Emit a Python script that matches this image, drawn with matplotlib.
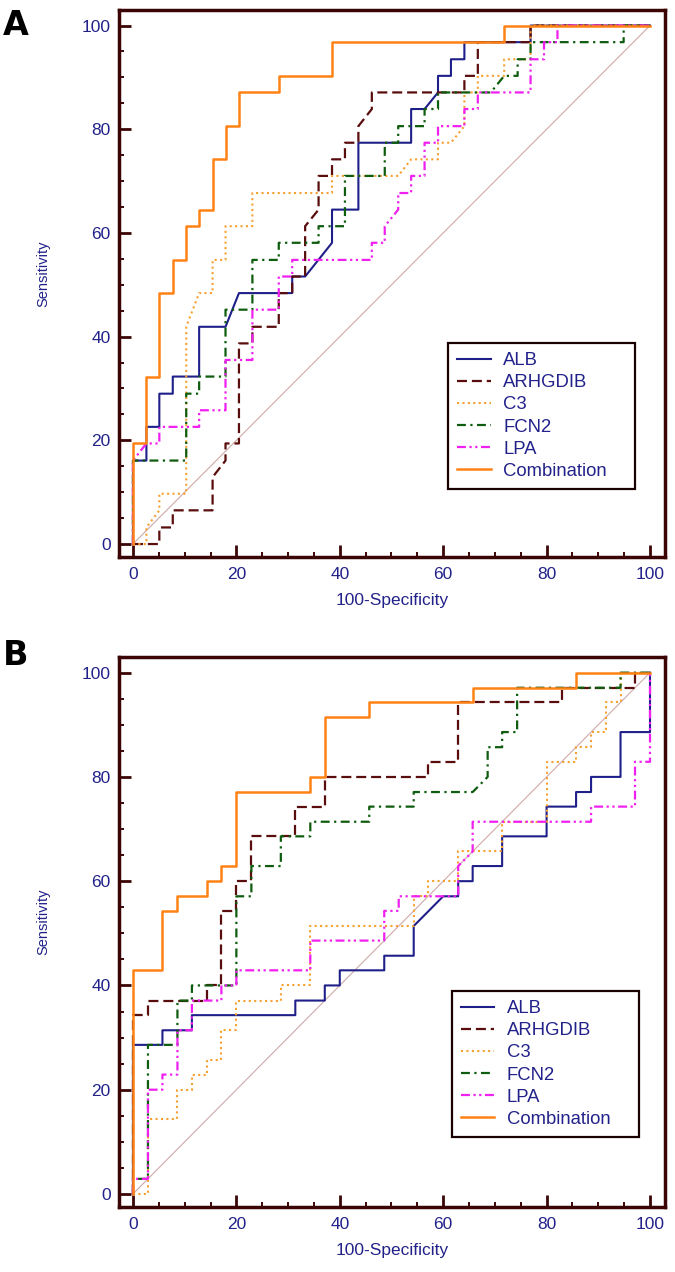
import matplotlib
matplotlib.use('Agg')
import matplotlib.pyplot as plt
from matplotlib.ticker import MultipleLocator

plt.rcParams['font.family'] = ['Liberation Sans', 'DejaVu Sans']

# ---- Panel A data (100-Specificity, Sensitivity step vertices) ----
a_alb_x = [0, 0, 2.6, 2.6, 5.1, 5.1, 7.7, 7.7, 12.8, 12.8, 17.9, 20.5, 30.8, 30.8, 33.3, 38.5, 38.5,
           43.6, 43.6, 53.8, 53.8, 56.4, 59.0, 59.0, 61.5, 61.5, 64.1, 64.1, 76.9, 76.9, 100]
a_alb_y = [0, 16.1, 16.1, 22.6, 22.6, 29.0, 29.0, 32.3, 32.3, 41.9, 41.9, 48.4, 48.4, 51.6, 51.6, 58.1, 64.5,
           64.5, 77.4, 77.4, 83.9, 83.9, 87.1, 90.3, 90.3, 93.5, 93.5, 96.8, 96.8, 100, 100]

a_arh_x = [0, 5.1, 5.1, 7.7, 7.7, 15.4, 15.4, 17.9, 17.9, 20.5, 20.5, 23.1, 23.1, 28.2, 28.2, 30.8, 30.8,
           33.3, 33.3, 35.9, 35.9, 38.5, 38.5, 41.0, 41.0, 43.6, 43.6, 46.2, 46.2, 64.1, 64.1, 66.7, 66.7,
           76.9, 76.9, 100]
a_arh_y = [0, 0, 3.2, 3.2, 6.5, 6.5, 12.9, 16.1, 19.4, 19.4, 38.7, 38.7, 41.9, 41.9, 48.4, 48.4, 51.6,
           51.6, 61.3, 64.5, 71.0, 71.0, 74.2, 74.2, 77.4, 77.4, 80.6, 83.9, 87.1, 87.1, 90.3, 90.3, 96.8,
           96.8, 100, 100]

a_c3_x = [0, 2.6, 2.6, 5.1, 5.1, 10.3, 10.3, 12.8, 15.4, 15.4, 17.9, 17.9, 23.1, 23.1, 38.5, 38.5, 51.3,
          53.8, 59.0, 59.0, 61.5, 64.1, 64.1, 66.7, 66.7, 71.8, 71.8, 76.9, 76.9, 100]
a_c3_y = [0, 0, 3.2, 6.5, 9.7, 9.7, 41.9, 48.4, 48.4, 54.8, 54.8, 61.3, 61.3, 67.7, 67.7, 71.0, 71.0,
          74.2, 74.2, 77.4, 77.4, 80.6, 87.1, 87.1, 90.3, 90.3, 93.5, 93.5, 100, 100]

a_fcn_x = [0, 0, 10.3, 10.3, 12.8, 12.8, 17.9, 17.9, 23.1, 23.1, 28.2, 28.2, 35.9, 35.9, 41.0, 41.0, 48.7,
           48.7, 51.3, 51.3, 56.4, 56.4, 59.0, 59.0, 69.2, 71.8, 74.4, 74.4, 76.9, 76.9, 94.9, 94.9, 100]
a_fcn_y = [0, 16.1, 16.1, 29.0, 29.0, 32.3, 32.3, 45.2, 45.2, 54.8, 54.8, 58.1, 58.1, 61.3, 61.3, 71.0, 71.0,
           77.4, 77.4, 80.6, 80.6, 83.9, 83.9, 87.1, 87.1, 90.3, 90.3, 93.5, 93.5, 96.8, 96.8, 100, 100]

a_lpa_x = [0, 0, 2.6, 5.1, 5.1, 12.8, 12.8, 17.9, 17.9, 23.1, 23.1, 28.2, 28.2, 30.8, 30.8, 46.2, 46.2,
           48.7, 48.7, 51.3, 51.3, 53.8, 53.8, 56.4, 56.4, 59.0, 59.0, 64.1, 64.1, 66.7, 66.7, 76.9, 76.9,
           79.5, 79.5, 82.1, 82.1, 100]
a_lpa_y = [0, 16.1, 19.4, 19.4, 22.6, 22.6, 25.8, 25.8, 35.5, 35.5, 45.2, 45.2, 51.6, 51.6, 54.8, 54.8, 58.1,
           58.1, 61.3, 64.5, 67.7, 67.7, 71.0, 71.0, 77.4, 77.4, 80.6, 80.6, 83.9, 83.9, 87.1, 87.1, 93.5,
           93.5, 96.8, 96.8, 100, 100]

a_comb_x = [0, 0, 2.6, 2.6, 5.1, 5.1, 7.7, 7.7, 10.3, 10.3, 12.8, 12.8, 15.4, 15.4, 17.9, 17.9, 20.5, 20.5,
            28.2, 28.2, 38.5, 38.5, 71.8, 71.8, 100]
a_comb_y = [0, 19.4, 19.4, 32.3, 32.3, 48.4, 48.4, 54.8, 54.8, 61.3, 61.3, 64.5, 64.5, 74.2, 74.2, 80.6, 80.6,
            87.1, 87.1, 90.3, 90.3, 96.8, 96.8, 100, 100]

# ---- Panel B data ----
b_alb_x = [0, 0, 5.7, 5.7, 11.4, 11.4, 31.4, 31.4, 37.1, 37.1, 40.0, 40.0, 48.6, 48.6, 54.3, 54.3, 60.0,
           62.9, 62.9, 65.7, 65.7, 71.4, 71.4, 80.0, 80.0, 85.7, 85.7, 88.6, 88.6, 94.3, 94.3, 100, 100]
b_alb_y = [0, 28.6, 28.6, 31.4, 31.4, 34.3, 34.3, 37.1, 37.1, 40.0, 40.0, 42.9, 42.9, 45.7, 45.7, 51.4, 57.1,
           57.1, 60.0, 60.0, 62.9, 62.9, 68.6, 68.6, 74.3, 74.3, 77.1, 77.1, 80.0, 80.0, 88.6, 88.6, 100]

b_arh_x = [0, 0, 2.9, 2.9, 14.3, 14.3, 17.1, 17.1, 20.0, 20.0, 22.9, 22.9, 31.4, 31.4, 37.1, 37.1, 57.1,
           57.1, 62.9, 62.9, 82.9, 82.9, 97.1, 97.1, 100]
b_arh_y = [0, 34.3, 34.3, 37.1, 37.1, 40.0, 40.0, 54.3, 54.3, 60.0, 60.0, 68.6, 68.6, 74.3, 74.3, 80.0, 80.0,
           82.9, 82.9, 94.3, 94.3, 97.1, 97.1, 100, 100]

b_c3_x = [0, 2.9, 2.9, 8.6, 8.6, 11.4, 11.4, 14.3, 14.3, 17.1, 17.1, 20.0, 20.0, 28.6, 28.6, 34.3, 34.3,
          54.3, 54.3, 57.1, 57.1, 62.9, 62.9, 71.4, 71.4, 80.0, 80.0, 85.7, 85.7, 88.6, 88.6, 91.4, 91.4,
          94.3, 94.3, 100]
b_c3_y = [0, 0, 14.3, 14.3, 20.0, 20.0, 22.9, 22.9, 25.7, 25.7, 31.4, 31.4, 37.1, 37.1, 40.0, 40.0, 51.4,
          51.4, 57.1, 57.1, 60.0, 60.0, 65.7, 65.7, 71.4, 71.4, 82.9, 82.9, 85.7, 85.7, 88.6, 88.6, 94.3,
          94.3, 100, 100]

b_fcn_x = [0, 0, 2.9, 2.9, 8.6, 8.6, 11.4, 11.4, 20.0, 20.0, 22.9, 22.9, 28.6, 28.6, 34.3, 34.3, 45.7,
           45.7, 54.3, 54.3, 65.7, 68.6, 68.6, 71.4, 71.4, 74.3, 74.3, 94.3, 94.3, 100]
b_fcn_y = [0, 2.9, 2.9, 28.6, 28.6, 37.1, 37.1, 40.0, 40.0, 57.1, 57.1, 62.9, 62.9, 68.6, 68.6, 71.4, 71.4,
           74.3, 74.3, 77.1, 77.1, 80.0, 85.7, 85.7, 88.6, 88.6, 97.1, 97.1, 100, 100]

b_lpa_x = [0, 0, 2.9, 2.9, 5.7, 5.7, 8.6, 8.6, 11.4, 11.4, 17.1, 17.1, 20.0, 20.0, 34.3, 34.3, 48.6, 48.6,
           51.4, 51.4, 62.9, 62.9, 65.7, 65.7, 88.6, 88.6, 97.1, 97.1, 100, 100]
b_lpa_y = [0, 2.9, 2.9, 20.0, 20.0, 22.9, 22.9, 31.4, 31.4, 37.1, 37.1, 40.0, 40.0, 42.9, 42.9, 48.6, 48.6,
           54.3, 54.3, 57.1, 57.1, 62.9, 65.7, 71.4, 71.4, 74.3, 74.3, 82.9, 82.9, 100]

b_comb_x = [0, 0, 5.7, 5.7, 8.6, 8.6, 14.3, 14.3, 17.1, 17.1, 20.0, 20.0, 34.3, 34.3, 37.1, 37.1, 45.7,
            45.7, 65.7, 65.7, 85.7, 85.7, 100]
b_comb_y = [0, 42.9, 42.9, 54.3, 54.3, 57.1, 57.1, 60.0, 60.0, 62.9, 62.9, 77.1, 77.1, 80.0, 80.0, 91.4, 91.4,
            94.3, 94.3, 97.1, 97.1, 100, 100]

labels = ['ALB', 'ARHGDIB', 'C3', 'FCN2', 'LPA', 'Combination']

# line styles per marker
styles = {
    'ALB': dict(color='#1f1f8a', lw=1.5, ls='-'),
    'ARHGDIB': dict(color='#5a0d0d', lw=1.6, ls=(0, (4.5, 2.2))),
    'C3': dict(color='#f7a030', lw=1.5, ls=(0, (1, 1.6))),
    'FCN2': dict(color='#0e5c0e', lw=1.6, ls=(0, (4, 2, 1, 2))),
    'LPA': dict(color='#f020f0', lw=1.6, ls=(0, (4, 1.6, 1, 1.6, 1, 1.6))),
    'Combination': dict(color='#ff8214', lw=1.8, ls='-'),
}

navy = '#22228a'
frame = '#3c0505'

fig = plt.figure(figsize=(6.75, 12.72), dpi=100)
ax_a = fig.add_axes([119 / 675, 1 - 557 / 1272, 546 / 675, 547 / 1272])
ax_b = fig.add_axes([119 / 675, 1 - 1207 / 1272, 546 / 675, 550 / 1272])


def draw_panel(ax, curves, legend_box):
    # reference diagonal
    ax.plot([0, 100], [0, 100], color='#cfa9a9', lw=0.8, zorder=1)
    for name, xs, ys in zip(labels, curves[0::2], curves[1::2]):
        st = styles[name]
        ax.plot(xs, ys, color=st['color'], lw=st['lw'], linestyle=st['ls'], label=name, zorder=2)

    ax.set_xlim(-2.7, 102.9)
    ax.set_ylim(-2.5, 103.0)
    ax.xaxis.set_major_locator(MultipleLocator(20))
    ax.yaxis.set_major_locator(MultipleLocator(20))
    ax.xaxis.set_minor_locator(MultipleLocator(5))
    ax.yaxis.set_minor_locator(MultipleLocator(5))
    ax.tick_params(which='major', direction='in', length=8.5, width=2, color=frame,
                   labelsize=12.5, labelcolor=navy)
    ax.tick_params(which='minor', direction='in', length=3.6, width=1.4, color=frame)
    ax.tick_params(axis='x', which='major', pad=7)
    ax.tick_params(axis='y', which='major', pad=6)
    for sp in ax.spines.values():
        sp.set_color(frame)
        sp.set_linewidth(2.5)

    ax.set_xlabel('100-Specificity', fontsize=12.5, color=navy)
    ax.set_ylabel('Sensitivity', fontsize=10.5, color=navy)
    ax.xaxis.set_label_coords(0.5, -0.066)
    ax.yaxis.set_label_coords(-0.126, 0.518)

    leg = ax.legend(loc='lower left', bbox_to_anchor=legend_box, mode='expand', fontsize=13.3,
                    frameon=True, fancybox=False, framealpha=1, edgecolor='#1a0000',
                    handlelength=1.8, handletextpad=0.7, labelspacing=0.28, borderpad=0.5,
                    borderaxespad=0)
    leg.get_frame().set_linewidth(1.6)
    for t in leg.get_texts():
        t.set_color(navy)


draw_panel(ax_a, [a_alb_x, a_alb_y, a_arh_x, a_arh_y, a_c3_x, a_c3_y,
                  a_fcn_x, a_fcn_y, a_lpa_x, a_lpa_y, a_comb_x, a_comb_y],
           (0.6026, 0.124, 0.3425, 0.2))
draw_panel(ax_b, [b_alb_x, b_alb_y, b_arh_x, b_arh_y, b_c3_x, b_c3_y,
                  b_fcn_x, b_fcn_y, b_lpa_x, b_lpa_y, b_comb_x, b_comb_y],
           (0.609, 0.127, 0.3436, 0.2))

fig.text(3 / 675, 1 - 9 / 1272, 'A', fontsize=24, fontweight='bold', family='DejaVu Sans',
         ha='left', va='top', color='black')
fig.text(3 / 675, 1 - 639 / 1272, 'B', fontsize=24, fontweight='bold', family='DejaVu Sans',
         ha='left', va='top', color='black')

fig.savefig('out.png', dpi=100, facecolor='white')
